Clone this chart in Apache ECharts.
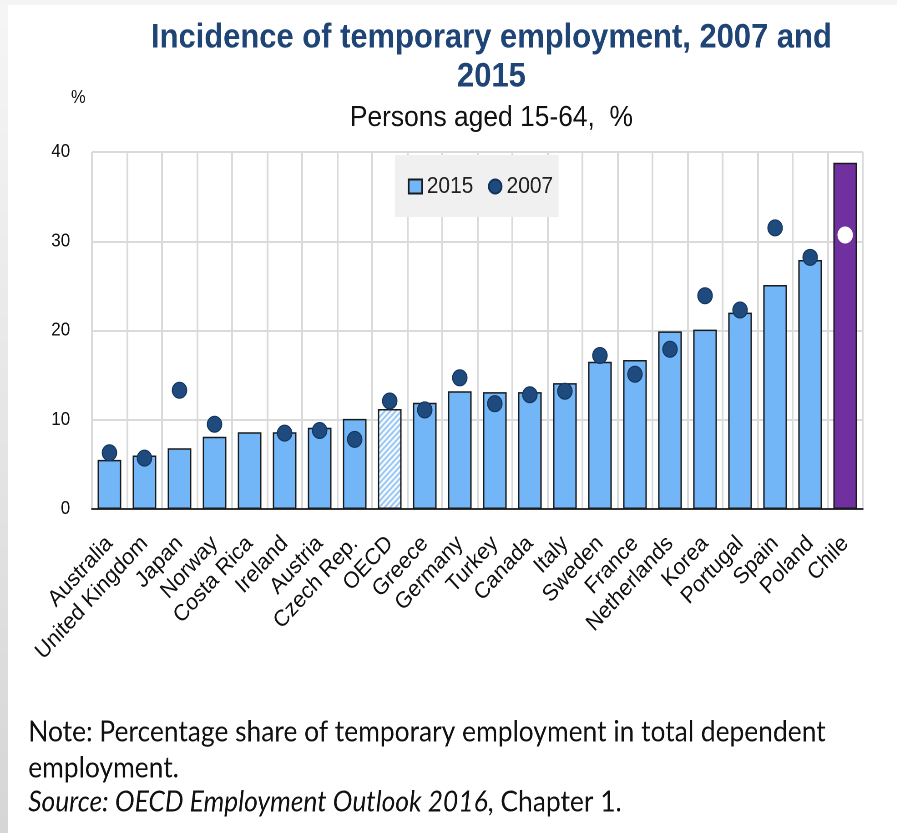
<!DOCTYPE html>
<html>
<head>
<meta charset="utf-8">
<title>Incidence of temporary employment, 2007 and 2015</title>
<script src="https://cdn.jsdelivr.net/npm/echarts@6/dist/echarts.min.js"></script>
<style>
  html, body { margin: 0; padding: 0; background: #ffffff; overflow: hidden; }
  #wrap { width: 897px; height: 833px; overflow: hidden; }
  /* the chart is laid out slightly wider and squeezed horizontally, giving the narrow lettering */
  #chart { width: 986px; height: 833px; transform: scaleX(0.91); transform-origin: 0 0; }
</style>
</head>
<body>
<div id="wrap"><div id="chart"></div></div>
<script>
// Countries, sorted by 2015 incidence
const categories = ['Australia', 'United Kingdom', 'Japan', 'Norway', 'Costa Rica', 'Ireland', 'Austria',
  'Czech Rep.', 'OECD', 'Greece', 'Germany', 'Turkey', 'Canada', 'Italy', 'Sweden', 'France',
  'Netherlands', 'Korea', 'Portugal', 'Spain', 'Poland', 'Chile'];

// Share of temporary employment in total dependent employment, %
const values2015 = [5.5, 6.0, 6.8, 8.1, 8.6, 8.6, 9.1, 10.1, 11.2, 11.9, 13.2, 13.1, 13.1, 14.1,
  16.5, 16.7, 19.9, 20.1, 22.0, 25.1, 27.9, 38.8];
const values2007 = [6.3, 5.7, 13.3, 9.5, null, 8.5, 8.8, 7.8, 12.1, 11.1, 14.7, 11.8, 12.8, 13.2,
  17.2, 15.1, 17.9, 23.9, 22.3, 31.5, 28.2, 30.7];

// Value axis ticks
const yTicks = [0, 10, 20, 30, 40];

const seriesNames = ['2015', '2007'];

// Colours
const BAR_BLUE = '#72B6F8';
const DOT_BLUE = '#1F4A7E';
const CHILE_PURPLE = '#7030A0';
const TITLE_BLUE = '#1F4577';

// Diagonal hatching used for the OECD average bar
function makeHatch() {
  const c = document.createElement('canvas');
  c.width = 6; c.height = 6;
  const ctx = c.getContext('2d');
  ctx.fillStyle = '#ffffff';
  ctx.fillRect(0, 0, 6, 6);
  ctx.strokeStyle = '#7DB9F2';
  ctx.lineWidth = 1.6;
  ctx.beginPath();
  ctx.moveTo(-1, 7); ctx.lineTo(7, -1);
  ctx.moveTo(-4, 4); ctx.lineTo(4, -4);
  ctx.moveTo(2, 10); ctx.lineTo(10, 2);
  ctx.stroke();
  return c;
}
const hatch = makeHatch();

const barData = values2015.map((v, i) => {
  const name = categories[i];
  if (name === 'OECD') {
    return { value: v, itemStyle: { color: { image: hatch, repeat: 'repeat' } } };
  }
  if (name === 'Chile') {
    return { value: v, itemStyle: { color: CHILE_PURPLE } };
  }
  return v;
});

const dotData = values2007.map((v, i) => {
  if (v === null) return '-';
  if (categories[i] === 'Chile') {
    return { value: v, itemStyle: { color: '#ffffff', borderColor: '#ffffff' } };
  }
  return v;
});

const chart = echarts.init(document.getElementById('chart'), null, { renderer: 'canvas', devicePixelRatio: 2 });

const FONT = "'Liberation Sans', Arial, sans-serif";
const NOTE_FONT = "Lato, 'Open Sans', sans-serif";
const TX = 540; // horizontal centre of the heading block

chart.setOption({
  backgroundColor: '#ffffff',
  animation: false,
  grid: { left: 101, right: 38, top: 152, bottom: 324, containLabel: false },
  legend: {
    left: 434,
    top: 155,
    padding: [20, 6, 19, 14],
    backgroundColor: '#F0F0F0',
    itemWidth: 15,
    itemHeight: 14,
    itemGap: 16,
    textStyle: { fontFamily: FONT, fontSize: 23, color: '#222222' },
    data: [
      { name: seriesNames[0], icon: 'rect' },
      { name: seriesNames[1], icon: 'circle' }
    ]
  },
  xAxis: {
    type: 'category',
    data: categories,
    boundaryGap: true,
    axisLine: { show: true, lineStyle: { color: '#333333', width: 2 } },
    axisTick: { show: false },
    axisLabel: {
      interval: 0,
      rotate: 45,
      margin: 31,
      fontFamily: FONT,
      fontSize: 23,
      color: '#111111'
    },
    splitLine: { show: true, interval: 0, lineStyle: { color: '#DADADA', width: 2 } }
  },
  yAxis: {
    type: 'value',
    min: yTicks[0],
    max: yTicks[yTicks.length - 1],
    interval: yTicks[1] - yTicks[0],
    axisLine: { show: false },
    axisTick: { show: false },
    axisLabel: { margin: 24, fontFamily: FONT, fontSize: 18.5, color: '#111111' },
    splitLine: { show: true, lineStyle: { color: '#DADADA', width: 2 } }
  },
  series: [
    {
      name: seriesNames[0],
      type: 'bar',
      data: barData,
      barWidth: 26,
      itemStyle: { color: BAR_BLUE, borderColor: '#1A1A1A', borderWidth: 1.5 },
      z: 2
    },
    {
      name: seriesNames[1],
      type: 'scatter',
      data: dotData,
      symbol: 'circle',
      symbolSize: 16,
      itemStyle: { color: DOT_BLUE, borderColor: '#12335A', borderWidth: 1, opacity: 1 },
      z: 3
    }
  ],
  graphic: [
    {
      type: 'rect', z: -10, silent: true,
      shape: { x: 0, y: 0, width: 9, height: 833 },
      style: {
        fill: new echarts.graphic.LinearGradient(0, 0, 0, 1, [
          { offset: 0, color: '#F6F6F6' },
          { offset: 1, color: '#D6D6D6' }
        ])
      }
    },
    {
      type: 'rect', z: -10, silent: true,
      shape: { x: 0, y: 0, width: 986, height: 5 },
      style: { fill: '#F4F4F4' }
    },
    {
      type: 'text', x: TX, y: 38,
      style: { text: 'Incidence of temporary employment, 2007 and', font: "bold 34px " + FONT,
        fill: TITLE_BLUE, align: 'center', verticalAlign: 'middle' }
    },
    {
      type: 'text', x: TX, y: 77,
      style: { text: '2015', font: "bold 34px " + FONT,
        fill: TITLE_BLUE, align: 'center', verticalAlign: 'middle' }
    },
    {
      type: 'text', x: TX, y: 118,
      style: { text: 'Persons aged 15-64,  %', font: "29px " + FONT,
        fill: '#111111', align: 'center', verticalAlign: 'middle' }
    },
    {
      type: 'text', x: 86, y: 98,
      style: { text: '%', font: "18px " + FONT, fill: '#111111', align: 'center', verticalAlign: 'middle' }
    },
    {
      type: 'text', x: 31, y: 732,
      style: { text: 'Note: Percentage share of temporary employment in total dependent',
        font: "29px " + NOTE_FONT, fill: '#111111', align: 'left', verticalAlign: 'middle' }
    },
    {
      type: 'text', x: 31, y: 768,
      style: { text: 'employment.', font: "29px " + NOTE_FONT, fill: '#111111', align: 'left', verticalAlign: 'middle' }
    },
    {
      type: 'text', x: 31, y: 802,
      style: {
        text: '{i|Source: OECD Employment Outlook 2016}{n|, Chapter 1.}',
        align: 'left', verticalAlign: 'middle',
        rich: {
          i: { fontFamily: NOTE_FONT, fontSize: 29, fontStyle: 'italic', fill: '#111111', color: '#111111' },
          n: { fontFamily: NOTE_FONT, fontSize: 29, fill: '#111111', color: '#111111' }
        }
      }
    }
  ]
});
</script>
</body>
</html>
